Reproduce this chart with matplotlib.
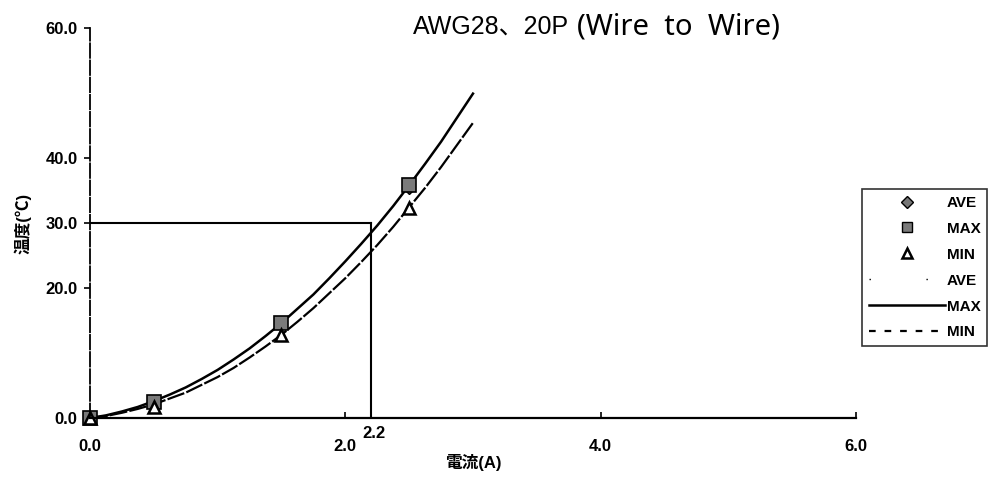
import matplotlib.pyplot as plt
from matplotlib.lines import Line2D

plt.rcParams['font.family'] = ['Liberation Sans', 'Noto Sans CJK JP', 'DejaVu Sans']

# measured points: current (A) vs temperature rise (degC)
current = [0.0, 0.5, 1.5, 2.5]
temp_ave = [0.0, 2.3, 14.3, 35.3]
temp_max = [0.0, 2.5, 14.6, 35.8]
temp_min = [0.0, 1.7, 12.8, 32.3]

# trend curves
curve_x = [0.0, 0.125, 0.25, 0.375, 0.5, 0.625, 0.75, 0.875, 1.0, 1.125, 1.25, 1.375,
           1.5, 1.625, 1.75, 1.875, 2.0, 2.125, 2.25, 2.375, 2.5, 2.625, 2.75, 2.875, 3.0]
curve_max = [0.0, 0.4, 1.0, 1.7, 2.6, 3.6, 4.7, 6.0, 7.4, 9.0, 10.7, 12.6,
             14.6, 16.8, 19.0, 21.5, 24.1, 26.8, 29.6, 32.6, 35.8, 39.1, 42.5, 46.2, 49.9]
curve_min = [0.0, 0.3, 0.8, 1.4, 2.1, 3.0, 3.9, 5.1, 6.3, 7.7, 9.3, 11.0,
             12.8, 14.8, 16.9, 19.2, 21.5, 24.0, 26.6, 29.4, 32.4, 35.4, 38.6, 42.0, 45.4]

rated_current = 2.2
rated_temp = 30.0

xticks = [0.0, 2.0, 4.0, 6.0]
yticks = [0.0, 20.0, 30.0, 40.0, 60.0]

fig = plt.figure(figsize=(9.9, 4.84), dpi=100)
ax = fig.add_axes([0.0909, 0.1364, 0.7737, 0.8058])

# rated point guide lines
ax.plot([0, rated_current], [rated_temp, rated_temp], color='black', lw=1.5)
ax.plot([rated_current, rated_current], [0, rated_temp], color='black', lw=1.5)

# trend lines
ax.plot(curve_x, curve_max, color='black', lw=1.8)
ax.plot(curve_x, curve_min, color='black', lw=1.6, linestyle=(0, (8, 1)))

# markers (AVE sits behind the MAX squares)
ax.plot(current, temp_ave, linestyle='none', marker='D', ms=5, mfc='#777777', mec='black',
        clip_on=False)
ax.plot(current, temp_max, linestyle='none', marker='s', ms=10, mfc='#7a7a7a', mec='black',
        mew=1.2, clip_on=False)
ax.plot(current, temp_min, linestyle='none', marker='^', ms=9, mfc='white', mec='black',
        mew=1.8, clip_on=False)

ax.set_xlim(0, 6)
ax.set_ylim(0, 60)
ax.set_xticks(xticks)
ax.set_xticklabels([f'{v:.1f}' for v in xticks])
ax.set_yticks(yticks)
ax.set_yticklabels([f'{v:.1f}' for v in yticks])
ax.tick_params(axis='x', direction='in', length=4, width=1.2, pad=15, labelsize=12)
ax.tick_params(axis='y', direction='out', length=4, width=1.2, pad=5, labelsize=12)
for lbl in ax.get_xticklabels() + ax.get_yticklabels():
    lbl.set_fontweight('bold')

ax.spines['top'].set_visible(False)
ax.spines['right'].set_visible(False)
ax.spines['left'].set_linestyle((0, (8, 1.5)))
ax.spines['left'].set_linewidth(1.3)
ax.spines['bottom'].set_linewidth(1.6)

ax.annotate('2.2', xy=(rated_current, 0), xytext=(2, -11), textcoords='offset points',
            ha='center', va='center', fontsize=12, fontweight='bold')

ax.set_xlabel('電流(A)', fontsize=12, fontweight='bold', labelpad=0)
ax.set_ylabel('温度(℃)', fontsize=12, fontweight='bold', labelpad=10)

fig.text(0.417, 0.945, 'AWG28、20P', fontsize=18, va='center', ha='left',
         family=['Liberation Sans', 'Noto Sans CJK JP'])
fig.text(0.583, 0.945, '(Wire  to  Wire)', fontsize=21, va='center', ha='left',
         family=['Noto Sans', 'DejaVu Sans'])

handles = [
    Line2D([], [], linestyle='none', marker='D', ms=6, mfc='#777777', mec='black'),
    Line2D([], [], linestyle='none', marker='s', ms=7, mfc='#7a7a7a', mec='black'),
    Line2D([], [], linestyle='none', marker='^', ms=7, mfc='white', mec='black', mew=1.8),
    Line2D([], [], color='black', lw=1, linestyle=(0, (1, 40))),
    Line2D([], [], color='black', lw=1.8),
    Line2D([], [], color='black', lw=1.6, linestyle=(0, (3, 4))),
]
labels = ['AVE', 'MAX', 'MIN', 'AVE', 'MAX', 'MIN']
leg = fig.legend(handles, labels, loc='upper left', bbox_to_anchor=(862 / 990, 1 - 189 / 484),
                 frameon=True, fancybox=False, edgecolor='black', handlelength=5.0,
                 handletextpad=0.1, labelspacing=0.78, borderpad=0.45, borderaxespad=0,
                 prop={'size': 11, 'weight': 'bold'})
leg.get_frame().set_linewidth(1.2)

fig.savefig('out.png', dpi=100)
